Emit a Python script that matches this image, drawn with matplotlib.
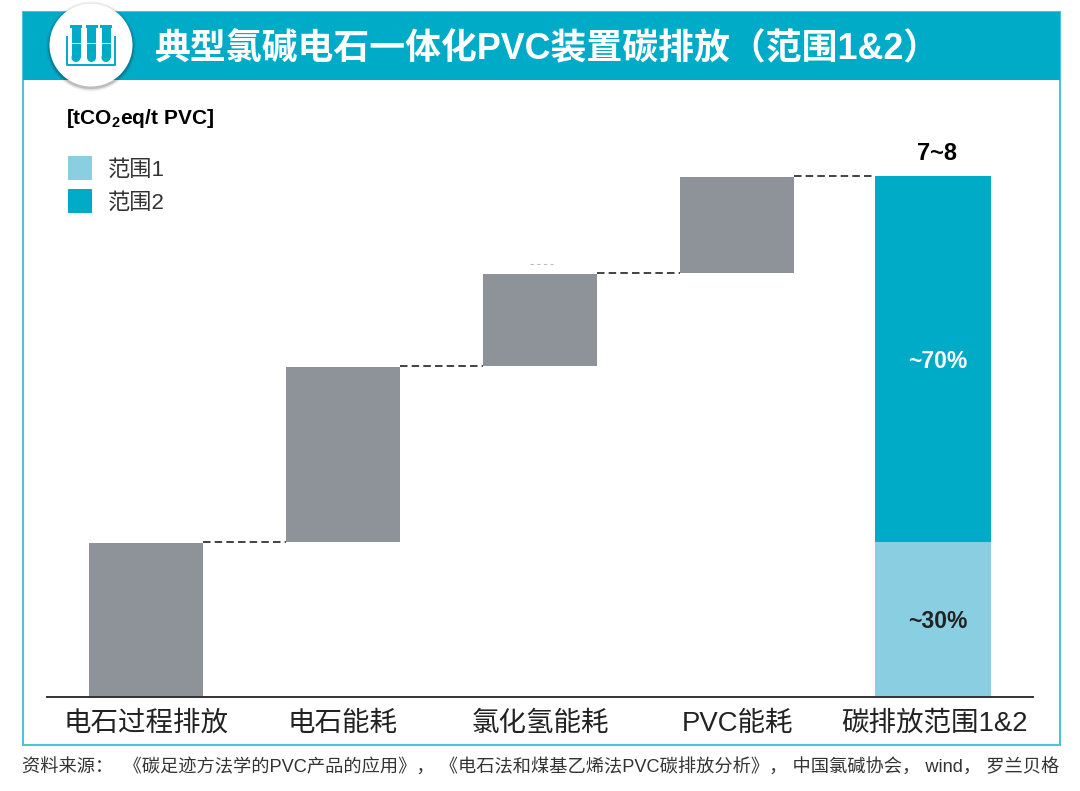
import matplotlib
matplotlib.use("Agg")
import matplotlib.pyplot as plt
from matplotlib.patches import Rectangle, Circle

plt.rcParams['font.family'] = ['Liberation Sans', 'Noto Sans CJK SC', 'DejaVu Sans']
plt.rcParams['mathtext.fontset'] = 'custom'
plt.rcParams['mathtext.bf'] = 'Liberation Sans:bold'
plt.rcParams['mathtext.rm'] = 'Liberation Sans'

title = "典型氯碱电石一体化PVC装置碳排放（范围1&2）"
unit = r"$\mathbf{[tCO_2eq/t\ PVC]}$"
source = "资料来源：  《碳足迹方法学的PVC产品的应用》， 《电石法和煤基乙烯法PVC碳排放分析》， 中国氯碱协会， wind， 罗兰贝格"

categories = ["电石过程排放", "电石能耗", "氯化氢能耗", "PVC能耗", "碳排放范围1&2"]
steps = [2.22, 2.53, 1.33, 1.39]
scope1 = 2.22
scope2 = 5.25
total_label = "7~8"
scope1_label = "~30%"
scope2_label = "~70%"

TEAL = "#00ABC8"
LIGHT = "#8ACFE1"
GREY = "#8E9299"
FRAME = "#4DC3DA"

fig = plt.figure(figsize=(10.8, 7.91), dpi=100)

# background layer, in pixel coords of the picture
bg = fig.add_axes([0, 0, 1, 1])
bg.set_xlim(0, 1080)
bg.set_ylim(791, 0)
bg.axis('off')
bg.add_patch(Rectangle((23, 12), 1037, 733, fc='white', ec=FRAME, lw=1.5))
bg.add_patch(Rectangle((23, 12), 1037, 68, fc=TEAL, ec='none'))

# badge with soft shadow
for r, a in [(45, 0.04), (44, 0.06), (43, 0.08), (42.5, 0.1)]:
    bg.add_patch(Circle((91, 46.5), r, fc='black', ec='none', alpha=a))
bg.add_patch(Circle((91, 45), 41.5, fc='white', ec='none'))

# test tube icon
for cx in [76, 91.5, 106]:
    bg.add_patch(Rectangle((cx - 4.5, 27), 9, 31, fc=TEAL, ec='none'))
    bg.add_patch(Circle((cx, 57.5), 4.5, fc=TEAL, ec='none'))
    bg.add_patch(Rectangle((cx - 6, 25), 12, 3, fc=TEAL, ec='none'))
    bg.plot([cx - 6, cx + 6], [43, 43], color='white', lw=0.8, alpha=0.8)
bg.plot([66.5, 66.5, 115, 115], [37, 65, 65, 37], color=TEAL, lw=1.4)

bg.text(155, 49, title, color='white', fontsize=25.8, fontweight='bold', va='center', ha='left')
bg.text(66, 119, unit, color='black', fontsize=15, va='center', ha='left')
bg.text(22, 768, source, color='#333333', fontsize=13.13, va='center', ha='left')

# faint leftover dashes above the third bar
bg.plot([530, 553], [264, 264], color='#BBBBBB', lw=0.8, dashes=(3, 3))

# chart layer
ax = fig.add_axes([47 / 1080, 1 - 697 / 791, 986 / 1080, 597 / 791])
ax.patch.set_alpha(0)
width = 0.575

bottom = 0
for i, v in enumerate(steps):
    ax.bar(i, v - 0.015, width, bottom=bottom, color=GREY)
    bottom += v
    end = i + 1 - width / 2 if i < len(steps) - 1 else len(steps) - 0.3
    ax.plot([i + width / 2, end], [bottom, bottom], color='#222222', lw=1.2,
            dashes=(4.5, 2.5))

n = len(steps)
b1 = ax.bar(n - 0.005, scope1, 0.59, color=LIGHT, label="范围1")
b2 = ax.bar(n - 0.005, scope2, 0.59, bottom=scope1, color=TEAL, label="范围2")

ax.text(n + 0.015, scope1 + scope2 + 0.32, total_label, ha='center', va='center',
        fontsize=17, fontweight='bold', color='black')
ax.text(n + 0.02, scope1 + scope2 * 0.5 - 0.04, scope2_label, ha='center', va='center',
        fontsize=16.5, fontweight='bold', color='white')
ax.text(n + 0.02, scope1 * 0.5 - 0.03, scope1_label, ha='center', va='center',
        fontsize=16.5, fontweight='bold', color='#222222')

ax.set_xlim(-0.5025, 4.5025)
ax.set_ylim(0, 597 / 69.75)
ax.set_xticks(range(len(categories)))
ax.set_xticklabels(categories, fontsize=19.8, color='#222222')
ax.tick_params(axis='x', length=0, pad=10)
ax.set_yticks([])
for s in ['top', 'left', 'right']:
    ax.spines[s].set_visible(False)
ax.spines['bottom'].set_color('#333333')
ax.spines['bottom'].set_linewidth(1.4)

ax.legend(handles=[b1, b2], loc='upper left', bbox_to_anchor=(68 / 1080, 1 - 156 / 791),
          bbox_transform=fig.transFigure, frameon=False, fontsize=16, borderpad=0,
          borderaxespad=0, handlelength=1.08, handleheight=1.285, labelspacing=0.38,
          handletextpad=0.72, labelcolor='#333333')

fig.savefig("out.png", dpi=100)
